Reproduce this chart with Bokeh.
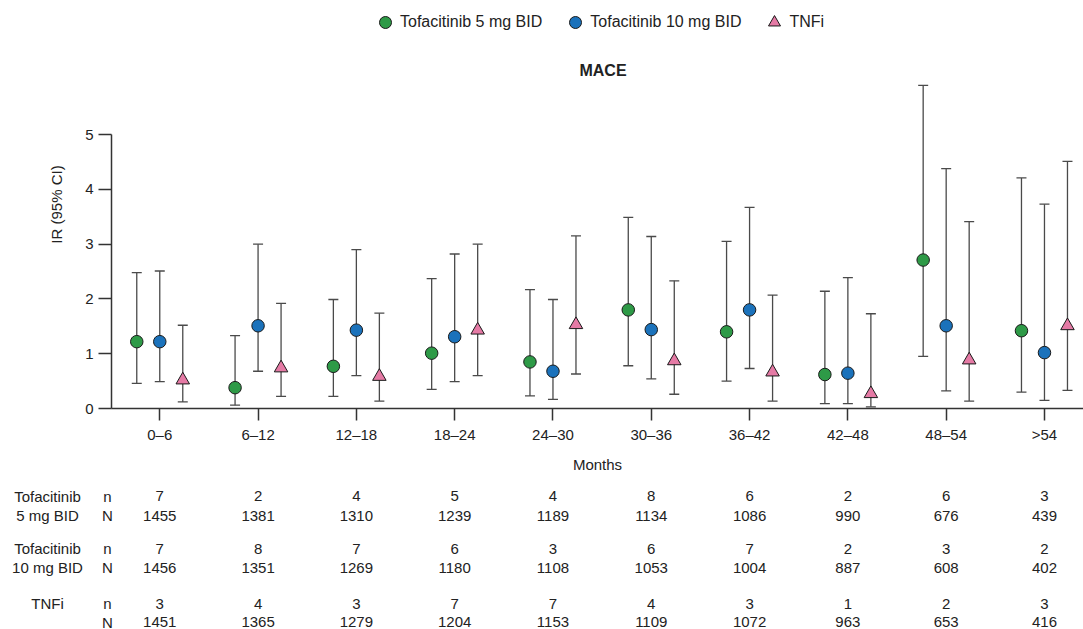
from bokeh.plotting import figure
from bokeh.models import (ColumnDataSource, Range1d, FixedTicker, Whisker, TeeHead,
                          Legend, LegendItem, Label)
from bokeh.transform import dodge
from bokeh.layouts import column
from bokeh.embed import file_html
from bokeh.resources import INLINE
from bokeh.core.properties import value

# ---------------- data ----------------
categories = ["0\u20136", "6\u201312", "12\u201318", "18\u201324", "24\u201330",
              "30\u201336", "36\u201342", "42\u201348", "48\u201354", ">54"]

tofa5_ir = [1.22, 0.38, 0.77, 1.01, 0.85, 1.80, 1.40, 0.62, 2.71, 1.42]
tofa5_lo = [0.46, 0.06, 0.22, 0.35, 0.23, 0.78, 0.50, 0.09, 0.95, 0.30]
tofa5_hi = [2.48, 1.33, 1.99, 2.37, 2.17, 3.49, 3.05, 2.14, 5.90, 4.21]

tofa10_ir = [1.22, 1.51, 1.43, 1.31, 0.68, 1.44, 1.80, 0.645, 1.51, 1.02]
tofa10_lo = [0.49, 0.68, 0.60, 0.49, 0.165, 0.54, 0.73, 0.09, 0.32, 0.15]
tofa10_hi = [2.51, 3.00, 2.90, 2.82, 1.99, 3.14, 3.67, 2.39, 4.38, 3.73]

tnfi_ir = [0.52, 0.74, 0.585, 1.43, 1.53, 0.87, 0.665, 0.27, 0.885, 1.51]
tnfi_lo = [0.12, 0.22, 0.135, 0.60, 0.63, 0.26, 0.135, 0.03, 0.135, 0.33]
tnfi_hi = [1.52, 1.92, 1.74, 3.00, 3.15, 2.33, 2.07, 1.73, 3.41, 4.51]

tofa5_n = [7, 2, 4, 5, 4, 8, 6, 2, 6, 3]
tofa5_N = [1455, 1381, 1310, 1239, 1189, 1134, 1086, 990, 676, 439]
tofa10_n = [7, 8, 7, 6, 3, 6, 7, 2, 3, 2]
tofa10_N = [1456, 1351, 1269, 1180, 1108, 1053, 1004, 887, 608, 402]
tnfi_n = [3, 4, 3, 7, 7, 4, 3, 1, 2, 3]
tnfi_N = [1451, 1365, 1279, 1204, 1153, 1109, 1072, 963, 653, 416]

y_ticks = [0, 1, 2, 3, 4, 5]

# ---------------- style / layout ----------------
FONT = "Liberation Sans"
TXT = "#222222"
AX = "#333333"
BAR = "#4a4a4a"
GREEN = "#2e9a47"
BLUE = "#1b72bb"
PINK = "#e57aa5"

FIG_W = 1083
MAIN_H = 478
TABLE_H = 151
FRAME_L = 111
X0, X1 = -0.491, 9.397
Y1 = 7.448
OFF = 0.234

x_pos = list(range(len(categories)))

p = figure(width=FIG_W, height=MAIN_H, x_range=Range1d(X0, X1), y_range=Range1d(0, Y1),
           output_backend="svg", toolbar_location=None, title=None,
           min_border_left=FRAME_L, min_border_right=0, min_border_top=0,
           min_border_bottom=MAIN_H - 408)
p.frame_align = False
p.outline_line_color = None
p.xgrid.visible = False
p.ygrid.visible = False

for ax in (p.xaxis[0], p.yaxis[0]):
    ax.axis_line_color = AX
    ax.axis_line_width = 1.5
    ax.major_tick_line_color = AX
    ax.major_tick_line_width = 1.5
    ax.major_tick_in = 0
    ax.minor_tick_line_color = None
    ax.major_label_text_font = FONT
    ax.major_label_text_font_size = "15px"
    ax.major_label_text_color = TXT
    ax.axis_label_text_font = FONT
    ax.axis_label_text_font_size = "15px"
    ax.axis_label_text_font_style = "normal"
    ax.axis_label_text_color = TXT

p.xaxis.ticker = FixedTicker(ticks=x_pos)
p.xaxis.major_label_overrides = {i: c for i, c in zip(x_pos, categories)}
p.xaxis.major_tick_out = 12
p.xaxis.major_label_standoff = 5
p.xaxis.axis_label = "Months"
p.xaxis.axis_label_standoff = 10

p.yaxis.ticker = FixedTicker(ticks=y_ticks)
p.yaxis.bounds = (0, 5)
p.yaxis.major_tick_out = 13
p.yaxis.major_label_standoff = 5
p.yaxis.axis_label = "IR (95% CI)"
p.yaxis.axis_label_standoff = 17

series = [
    ("Tofacitinib 5 mg BID", tofa5_ir, tofa5_lo, tofa5_hi, -OFF, "circle", 12.5, GREEN),
    ("Tofacitinib 10 mg BID", tofa10_ir, tofa10_lo, tofa10_hi, 0.0, "circle", 12.5, BLUE),
    ("TNFi", tnfi_ir, tnfi_lo, tnfi_hi, OFF, "triangle", 13.5, PINK),
]

items = []
for name, ir, lo, hi, off, marker, size, color in series:
    src = ColumnDataSource(dict(x=x_pos, ir=ir, lo=lo, hi=hi))
    w = Whisker(base=dodge("x", off), upper="hi", lower="lo", source=src,
                line_color=BAR, line_width=1.3,
                upper_head=TeeHead(size=10, line_color=BAR, line_width=1.3),
                lower_head=TeeHead(size=10, line_color=BAR, line_width=1.3))
    p.add_layout(w)
    r = p.scatter(x=dodge("x", off), y="ir", source=src, marker=marker, size=size,
                  fill_color=color, line_color="#1a1a1a", line_width=1)
    items.append(LegendItem(label=name, renderers=[r]))

legend = Legend(items=items, orientation="horizontal", location=(259, 371),
                glyph_width=30, glyph_height=30, label_standoff=0, spacing=18,
                padding=0, margin=0, border_line_color=None, background_fill_alpha=0,
                label_text_font=FONT, label_text_font_size="16px",
                label_text_color=TXT)
p.add_layout(legend)

p.add_layout(Label(x=491.5, y=338, x_units="screen", y_units="screen", text="MACE",
                   text_font=FONT, text_font_style="bold", text_font_size="16px",
                   text_align="center", text_baseline="middle", text_color=TXT))

# ---------------- table (same x scale as the chart, frame spans full width) ----------------
px_per_unit = (FIG_W - FRAME_L) / (X1 - X0)
TX0 = X0 - FRAME_L / px_per_unit

t = figure(width=FIG_W, height=TABLE_H, x_range=Range1d(TX0, X1),
           y_range=Range1d(TABLE_H, 0), output_backend="svg", toolbar_location=None,
           title=None, x_axis_location=None, y_axis_location=None,
           min_border_left=0, min_border_right=0, min_border_top=0,
           min_border_bottom=0)
t.frame_align = False
t.outline_line_color = None
t.xgrid.visible = False
t.ygrid.visible = False

row_y = [17.7, 37, 70.3, 89.3, 125.3, 143.5]
row_vals = [tofa5_n, tofa5_N, tofa10_n, tofa10_N, tnfi_n, tnfi_N]
row_nlab = ["n", "N", "n", "N", "n", "N"]
row_group = ["Tofacitinib", "5 mg BID", "Tofacitinib", "10 mg BID", "TNFi", ""]

for yy, vals, nl, gl in zip(row_y, row_vals, row_nlab, row_group):
    src = ColumnDataSource(dict(x=x_pos, y=[yy] * len(vals), txt=[str(v) for v in vals]))
    t.text(x="x", y="y", text="txt", source=src, text_font=value(FONT),
           text_font_size="15px", text_color=TXT, text_align="center",
           text_baseline="middle")
    t.add_layout(Label(x=107, y=yy, x_units="screen", y_units="data", text=nl,
                       text_font=FONT, text_font_size="15px", text_color=TXT,
                       text_align="center", text_baseline="middle"))
    if gl:
        t.add_layout(Label(x=47, y=yy, x_units="screen", y_units="data", text=gl,
                           text_font=FONT, text_font_size="15px", text_color=TXT,
                           text_align="center", text_baseline="middle"))

layout = column(p, t, spacing=0)
open("out.html", "w").write(file_html(layout, INLINE))
